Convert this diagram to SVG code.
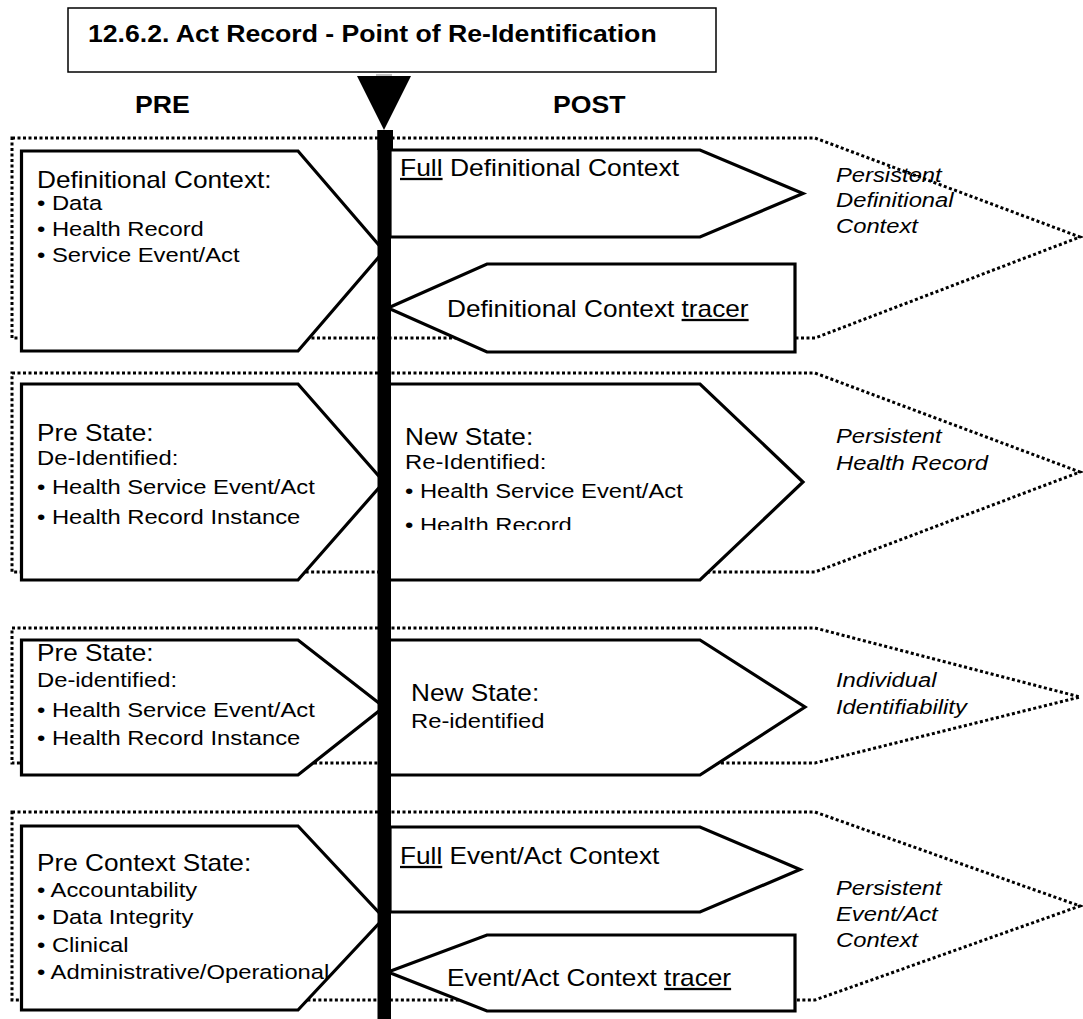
<svg xmlns="http://www.w3.org/2000/svg" width="1083" height="1019" viewBox="0 0 1083 1019">
  <style>
    .box { fill: #fff; stroke: #000; stroke-width: 3.2; stroke-linejoin: miter; }
    .dot { fill: none; stroke: #000; stroke-width: 3; stroke-dasharray: 3 2.5; }
    text { font-family: "Liberation Sans", Arial, sans-serif; fill: #000; }
    .h { font-size: 23px; }
    .b { font-size: 20.5px; }
    .it { font-style: italic; font-size: 20.5px; }
    .bold { font-weight: bold; font-size: 24px; }
    .u { text-decoration: underline; }
  </style>
  <defs>
    <clipPath id="clipNew2"><rect x="390" y="385" width="420" height="145"/></clipPath>
  </defs>
  <rect width="1083" height="1019" fill="#fff"/>

  <!-- title and column headings -->
  <g id="title">
    <rect x="68" y="8" width="648" height="64" fill="#fff" stroke="#000" stroke-width="1.5"/>
    <text class="bold" transform="matrix(1.11 0 0 1 88 41.5)">12.6.2.  Act Record - Point of Re-Identification</text>
  </g>
  <text class="bold" transform="matrix(1.11 0 0 1 135 113)">PRE</text>
  <text class="bold" transform="matrix(1.11 0 0 1 553 113)">POST</text>

  <!-- dotted groupings -->
  <g id="zones">
    <polygon class="dot" points="12,138 815,138 1080,237 815,338 12,338"/>
    <polygon class="dot" points="12,373 815,373 1080,472 815,572 12,572"/>
    <polygon class="dot" points="12,628 815,628 1080,697 815,763 12,763"/>
    <polygon class="dot" points="12,812 815,812 1080,906 815,1000 12,1000"/>
  </g>

  <!-- definitional context -->
  <g id="pre-definitional">
    <polygon class="box" points="21.5,151 298,151 384,251 298,351 21.5,351"/>
    <text class="h" transform="matrix(1.14 0 0 1 37 188)">Definitional Context:</text>
    <text class="b" transform="matrix(1.16 0 0 1 37 210)">• Data</text>
    <text class="b" transform="matrix(1.16 0 0 1 37 236)">• Health Record</text>
    <text class="b" transform="matrix(1.16 0 0 1 37 262)">• Service Event/Act</text>
  </g>
  <g id="full-definitional">
    <polygon class="box" points="390,150 700,150 803,193.5 700,237 390,237"/>
    <text class="h" transform="matrix(1.15 0 0 1 400 176)"><tspan class="u">Full</tspan> Definitional Context</text>
  </g>
  <g id="definitional-tracer">
    <polygon class="box" points="388,308 487,264 795,264 795,352 487,352"/>
    <text class="h" transform="matrix(1.14 0 0 1 447 317)">Definitional Context <tspan class="u">tracer</tspan></text>
  </g>
  <g id="label-persistent-definitional">
    <text class="it" transform="matrix(1.16 0 0 1 836 182)">Persistent</text>
    <text class="it" transform="matrix(1.16 0 0 1 836 207)">Definitional</text>
    <text class="it" transform="matrix(1.16 0 0 1 836 233)">Context</text>
  </g>

  <!-- health record state -->
  <g id="pre-state-1">
    <polygon class="box" points="21.5,384 298,384 384,482 298,580 21.5,580"/>
    <text class="h" transform="matrix(1.14 0 0 1 37 441)">Pre State:</text>
    <text class="b" transform="matrix(1.16 0 0 1 37 465)">De-Identified:</text>
    <text class="b" transform="matrix(1.16 0 0 1 37 494)">• Health Service Event/Act</text>
    <text class="b" transform="matrix(1.16 0 0 1 37 524)">• Health Record Instance</text>
  </g>
  <g id="new-state-1">
    <polygon class="box" points="389,384 700,384 803,482 700,580 389,580"/>
    <g clip-path="url(#clipNew2)">
      <text class="h" transform="matrix(1.14 0 0 1 405 445)">New State:</text>
      <text class="b" transform="matrix(1.16 0 0 1 405 469)">Re-Identified:</text>
      <text class="b" transform="matrix(1.16 0 0 1 405 498)">• Health Service Event/Act</text>
      <text class="b" transform="matrix(1.16 0 0 1 405 532)">• Health Record</text>
    </g>
  </g>
  <g id="label-persistent-record">
    <text class="it" transform="matrix(1.16 0 0 1 836 443)">Persistent</text>
    <text class="it" transform="matrix(1.16 0 0 1 836 470)">Health Record</text>
  </g>

  <!-- identifiability state -->
  <g id="pre-state-2">
    <polygon class="box" points="21.5,640 298,640 384,707 298,775 21.5,775"/>
    <text class="h" transform="matrix(1.14 0 0 1 37 661)">Pre State:</text>
    <text class="b" transform="matrix(1.16 0 0 1 37 687)">De-identified:</text>
    <text class="b" transform="matrix(1.16 0 0 1 37 717)">• Health Service Event/Act</text>
    <text class="b" transform="matrix(1.16 0 0 1 37 745)">• Health Record Instance</text>
  </g>
  <g id="new-state-2">
    <polygon class="box" points="389,640 700,640 805,707 700,775 389,775"/>
    <text class="h" transform="matrix(1.14 0 0 1 411 701)">New State:</text>
    <text class="b" transform="matrix(1.16 0 0 1 411 728)">Re-identified</text>
  </g>
  <g id="label-identifiability">
    <text class="it" transform="matrix(1.16 0 0 1 836 687)">Individual</text>
    <text class="it" transform="matrix(1.16 0 0 1 836 714)">Identifiability</text>
  </g>

  <!-- event/act context -->
  <g id="pre-context">
    <polygon class="box" points="21.5,826 298,826 384,918 298,1010 21.5,1010"/>
    <text class="h" transform="matrix(1.14 0 0 1 37 871)">Pre Context State:</text>
    <text class="b" transform="matrix(1.16 0 0 1 37 897)">• Accountability</text>
    <text class="b" transform="matrix(1.16 0 0 1 37 924)">• Data Integrity</text>
    <text class="b" transform="matrix(1.16 0 0 1 37 952)">• Clinical</text>
    <text class="b" transform="matrix(1.16 0 0 1 37 979)">• Administrative/Operational</text>
  </g>
  <g id="full-event-context">
    <polygon class="box" points="390,827 700,827 800,869.5 700,912 390,912"/>
    <text class="h" transform="matrix(1.14 0 0 1 400 864)"><tspan class="u">Full</tspan> Event/Act Context</text>
  </g>
  <g id="event-context-tracer">
    <polygon class="box" points="388,972 487,935 795,935 795,1011 487,1011"/>
    <text class="h" transform="matrix(1.14 0 0 1 447 986)">Event/Act Context <tspan class="u">tracer</tspan></text>
  </g>
  <g id="label-persistent-event">
    <text class="it" transform="matrix(1.16 0 0 1 836 895)">Persistent</text>
    <text class="it" transform="matrix(1.16 0 0 1 836 921)">Event/Act</text>
    <text class="it" transform="matrix(1.16 0 0 1 836 947)">Context</text>
  </g>

  <!-- central timeline with the point of re-identification marker -->
  <g id="connectors">
    <rect x="377.5" y="130" width="13.5" height="889" fill="#000"/>
    <rect x="377.5" y="130" width="15.5" height="20" fill="#000"/>
    <polygon points="357,76 411,76 384,130" fill="#000"/>
    <line x1="376" y1="75" x2="392" y2="75" stroke="#888" stroke-width="1"/>
  </g>
</svg>
